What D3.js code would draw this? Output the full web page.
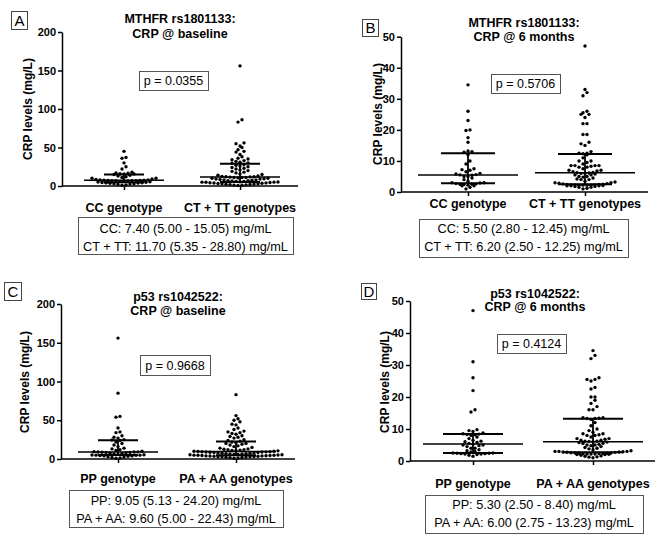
<!DOCTYPE html>
<html>
<head>
<meta charset="utf-8">
<script src="https://cdn.jsdelivr.net/npm/d3@7"></script>
<style>
  body { margin: 0; background: #fff; }
  svg { display: block; }
  text { font-family: "Liberation Sans", Arial, sans-serif; fill: #000; }
</style>
</head>
<body>
<svg width="666" height="544"></svg>
<script>
let letras = ["A", "B", "C", "D"];
let titulos = [
    ["MTHFR rs1801133:", "CRP @ baseline"],
    ["MTHFR rs1801133:", "CRP @ 6 months"],
    ["p53 rs1042522:", "CRP @ baseline"],
    ["p53 rs1042522:", "CRP @ 6 months"]
];
let categorias = [
    ["CC genotype", "CT + TT genotypes"],
    ["CC genotype", "CT + TT genotypes"],
    ["PP genotype", "PA + AA genotypes"],
    ["PP genotype", "PA + AA genotypes"]
];
let pvalores = ["p = 0.0355", "p = 0.5706", "p = 0.9668", "p = 0.4124"];
let resumos = [
    ["CC: 7.40 (5.00 - 15.05) mg/mL", "CT + TT: 11.70 (5.35 - 28.80) mg/mL"],
    ["CC: 5.50 (2.80 - 12.45) mg/mL", "CT + TT: 6.20 (2.50 - 12.25) mg/mL"],
    ["PP: 9.05 (5.13 - 24.20) mg/mL", "PA + AA: 9.60 (5.00 - 22.43) mg/mL"],
    ["PP: 5.30 (2.50 - 8.40) mg/mL", "PA + AA: 6.00 (2.75 - 13.23) mg/mL"]
];
let medianas = [[7.40, 11.70], [5.50, 6.20], [9.05, 9.60], [5.30, 6.00]];
let quartil1 = [[5.00, 5.35], [2.80, 2.50], [5.13, 5.00], [2.50, 2.75]];
let quartil3 = [[15.05, 28.80], [12.45, 12.25], [24.20, 22.43], [8.40, 13.23]];
let y_max = [200, 50, 200, 50];
let ticks_y = [
    [0, 50, 100, 150, 200],
    [0, 10, 20, 30, 40, 50],
    [0, 50, 100, 150, 200],
    [0, 10, 20, 30, 40, 50]
];

// valores de CRP (mg/L)
let a_cc = [45, 37, 36, 30, 25, 22, 18, 17, 16.5, 16, 15.8, 15.5,
    15, 14, 13, 12, 11, 10, 10, 9, 8.5, 8, 7.8, 7.5,
    7.4, 7.3, 7.2, 7, 7, 7, 6.8, 6.5, 6, 6, 5.5, 5.2,
    4.8, 4.5, 4.2, 4, 3.8, 3.5, 3, 3, 2.5, 2, 1.5, 1];
let a_ct = [156, 86, 83, 56, 55, 52, 50, 47, 45, 44, 41, 38, 36, 35, 34, 33, 32, 31, 30, 29.5,
    28, 27, 26, 25, 24, 23, 22, 21, 20, 19, 18, 17, 16, 15, 14, 13, 12.5, 12, 12, 11.8,
    11.5, 11.2, 11, 11, 10.5, 10, 10, 9.5, 9, 9, 8.5, 8, 8, 7.5, 7, 7, 6.5, 6, 6, 5.5,
    5.2, 5, 5, 4.8, 4.5, 4.2, 4, 3.8, 3.5, 3.2, 3, 2.8, 2.5, 2.2, 2, 1.8, 1.5, 1.2, 1, 0.8];
let b_cc = [34.5, 26, 23, 20, 19.8, 17.5, 16, 13.2, 13, 12.8,
    12, 10, 9, 7.5, 7.2, 7, 6.5, 6, 5.8, 5.6,
    5.5, 5.4, 5, 5, 4.5, 4, 3.5, 3, 3, 2.9,
    2.7, 2.6, 2.5, 2.5, 2.4, 2.2, 2, 2, 1.5, 1];
let b_ct = [47, 33, 32, 31, 26, 25.5, 25, 25, 24, 22, 22, 18.5, 18.5, 16, 15.5, 15, 13, 12.5, 12.5, 12.3,
    12, 11, 10, 10, 9.5, 9, 8.5, 8.5, 8.5, 8.5, 8.3, 8, 8, 7.5, 7, 7, 6.8, 6.5, 6.3, 6.2,
    6.1, 6, 6, 5.8, 5.5, 5.5, 5, 5, 4.8, 4.5, 4.2, 4, 4, 3.5, 3.2, 3, 3, 2.8, 2.7, 2.6,
    2.5, 2.4, 2.4, 2.3, 2.3, 2.3, 2.2, 2.2, 2.2, 2.2, 2.1, 2, 2, 2, 1.8, 1.8, 1.5, 1.5, 1.2, 1];
let c_pp = [156, 85, 55, 54, 40, 35, 34, 30, 28, 27, 25, 24.5,
    24, 22, 20, 18, 16, 14, 13, 12, 11, 10, 9.5, 9.2,
    9, 9, 8.8, 8.5, 8.5, 8, 7.5, 7, 6.5, 6, 5.5, 5.2,
    5, 5, 4.8, 4.5, 4, 4, 3.5, 3, 2.5, 2, 1.5, 1];
let c_pa = [83, 56, 52, 50, 48, 45, 44, 40, 38, 36, 35, 34, 33, 32, 30, 29, 28, 27, 25, 24, 23,
    22, 21, 20, 20, 19, 18, 17, 16, 15, 14, 13, 12.5, 12, 12, 11.5, 11, 11, 10.5, 10, 10, 9.8,
    9.5, 9.4, 9.2, 9, 9, 8.8, 8.5, 8.5, 8, 8, 7.5, 7.5, 7, 7, 6.5, 6.5, 6, 6, 5.5, 5.5, 5.2,
    5, 4.8, 4.8, 4.5, 4.5, 4.2, 4, 4, 3.8, 3.5, 3.5, 3.2, 3, 3, 2.8, 2.5, 2.2, 2, 1.8, 1.5, 1];
let d_pp = [47, 31, 26, 22, 16, 15.3, 9.8, 9.5, 9.2, 8.8, 8.5,
    8.4, 8.3, 8.2, 8, 7.5, 7, 6.5, 6.2, 6, 5.8, 5.5,
    5.3, 5, 5, 4.8, 4.5, 4, 4, 3.5, 3.2, 3, 2.8,
    2.5, 2.5, 2.4, 2.4, 2.3, 2.3, 2.2, 2.2, 2, 1.8, 1.5];
let d_pa = [34.5, 33, 32, 26, 25.5, 25.5, 25, 23, 22.5, 20, 20, 19, 18, 17, 16, 16, 13.5, 13.5, 13.4, 13.3, 13.3,
    13, 12, 11, 10, 9.5, 9, 8.5, 8.5, 8.2, 8, 8, 7.5, 7, 7, 6.8, 6.5, 6.5, 6.2, 6.2, 6.1, 6,
    5.9, 5.8, 5.5, 5.5, 5.2, 5, 5, 4.8, 4.5, 4.2, 4, 3.8, 3.5, 3.2, 3, 3, 3, 2.9, 2.8, 2.8, 2.75,
    2.7, 2.6, 2.5, 2.5, 2.4, 2.4, 2.3, 2.3, 2.3, 2.2, 2.2, 2.2, 2.1, 2, 2, 1.8, 1.6, 1.5, 1.3, 1.2, 1];
let grupos = [[a_cc, a_ct], [b_cc, b_ct], [c_pp, c_pa], [d_pp, d_pa]];

// posicoes de cada painel
let paineis = [
    {ax: 62, xe: 298, y0: 186, yt: 32, c: [124, 240], tx: 180, ty: [23, 38], lb: [11, 11, 16, 18],
     pb: [139, 71, 69, 19], cy: 212, sb: [78, 217, 215, 37], sy: [233, 251], ylx: 28, yly: 109, mw: 40, cw: 20},
    {ax: 401, xe: 648, y0: 192, yt: 36.7, c: [468, 585], tx: 524, ty: [27, 41], lb: [362, 19, 16, 17],
     pb: [491, 74, 69, 19], cy: 208, sb: [419, 219, 209, 38], sy: [233, 251], ylx: 378, yly: 114, mw: 50, cw: 27},
    {ax: 61, xe: 295, y0: 459, yt: 304, c: [118, 236], tx: 178, ty: [301, 315], lb: [4, 282, 17, 18],
     pb: [140, 355, 70, 20], cy: 483, sb: [69, 490, 214, 37], sy: [505, 523], ylx: 25, yly: 382, mw: 40, cw: 20},
    {ax: 410, xe: 655, y0: 461, yt: 301, c: [473, 593], tx: 535, ty: [298, 311], lb: [361, 283, 15, 16],
     pb: [497, 334, 69, 19], cy: 488, sb: [425, 495, 218, 38], sy: [509, 527], ylx: 385, yly: 382, mw: 50, cw: 30}
];

let $svg = d3.select("svg");
let raio = 1.7;
let passo = 4;
let alt_linha = 3.6;

// distribui os pontos em linhas horizontais (tipo Prism)
function enxame(vals, y, cx) {
    let ord = vals.slice().sort((a, b) => a - b);
    let pts = [];
    let linha = [];
    let y_ini = null;

    function fecha() {
        let n = linha.length;
        let offs = d3.range(n).map(i => (i - (n - 1) / 2) * passo);
        offs.sort((a, b) => Math.abs(a) - Math.abs(b) || a - b);
        linha.forEach((v, i) => pts.push({x: cx + offs[i], y: y(v)}));
        linha = [];
    }

    ord.forEach(v => {
        if (y_ini === null || Math.abs(y_ini - y(v)) > alt_linha) {
            if (linha.length) fecha();
            y_ini = y(v);
        }
        linha.push(v);
    });
    if (linha.length) fecha();
    return pts;
}

paineis.forEach((p, k) => {
    let g = $svg.append("g");

    let y = d3.scaleLinear()
        .domain([0, y_max[k]])
        .range([p.y0, p.yt]);

    let x = d3.scalePoint()
        .domain(categorias[k])
        .range(p.c);

    // eixo y
    let eixo_y = g.append("g")
        .attr("transform", `translate(${p.ax},0)`)
        .call(d3.axisLeft(y).tickValues(ticks_y[k]).tickSize(4).tickSizeOuter(0).tickPadding(2));
    eixo_y.select(".domain").attr("stroke-width", 1.5);
    eixo_y.selectAll(".tick line").attr("stroke-width", 1.5);
    eixo_y.selectAll(".tick text")
        .style("font-size", "11px")
        .style("font-weight", "bold")
        .style("font-family", "'Liberation Sans', Arial, sans-serif");

    // eixo x
    g.append("line")
        .attr("x1", p.ax).attr("x2", p.xe)
        .attr("y1", p.y0).attr("y2", p.y0)
        .attr("stroke", "#000").attr("stroke-width", 1.5);

    let eixo_x = g.append("g")
        .attr("transform", `translate(0,${p.y0})`)
        .call(d3.axisBottom(x).tickSize(4).tickFormat(""));
    eixo_x.select(".domain").remove();
    eixo_x.selectAll(".tick line").attr("stroke-width", 1.5);

    g.selectAll("text.cat")
        .data(categorias[k])
        .enter()
        .append("text")
        .classed("cat", true)
        .attr("x", d => x(d))
        .attr("y", p.cy)
        .attr("text-anchor", "middle")
        .style("font-size", "12.5px")
        .style("font-weight", "bold")
        .text(d => d);

    // rotulo do eixo y
    g.append("text")
        .attr("transform", `translate(${p.ylx + 4},${p.yly}) rotate(-90)`)
        .attr("text-anchor", "middle")
        .style("font-size", "12px")
        .style("font-weight", "bold")
        .text("CRP levels (mg/L)");

    // titulo
    g.selectAll("text.titulo")
        .data(titulos[k])
        .enter()
        .append("text")
        .classed("titulo", true)
        .attr("x", p.tx)
        .attr("y", (d, i) => p.ty[i])
        .attr("text-anchor", "middle")
        .style("font-size", "12.5px")
        .style("font-weight", "bold")
        .text(d => d);

    // letra do painel
    g.append("rect")
        .attr("x", p.lb[0] + 0.5).attr("y", p.lb[1] + 0.5)
        .attr("width", p.lb[2]).attr("height", p.lb[3])
        .attr("fill", "none").attr("stroke", "#444");
    g.append("text")
        .attr("x", p.lb[0] + p.lb[2] / 2 + 0.5)
        .attr("y", p.lb[1] + p.lb[3] / 2 + 5.5)
        .attr("text-anchor", "middle")
        .style("font-size", "15px")
        .text(letras[k]);

    // caixa do p
    g.append("rect")
        .attr("x", p.pb[0] + 0.5).attr("y", p.pb[1] + 0.5)
        .attr("width", p.pb[2]).attr("height", p.pb[3])
        .attr("fill", "#fff").attr("stroke", "#555");
    g.append("text")
        .attr("x", p.pb[0] + p.pb[2] / 2)
        .attr("y", p.pb[1] + p.pb[3] / 2 + 4.5)
        .attr("text-anchor", "middle")
        .style("font-size", "12.5px")
        .text(pvalores[k]);

    // caixa de resumo
    g.append("rect")
        .attr("x", p.sb[0] + 0.5).attr("y", p.sb[1] + 0.5)
        .attr("width", p.sb[2]).attr("height", p.sb[3])
        .attr("fill", "none").attr("stroke", "#555");
    g.selectAll("text.resumo")
        .data(resumos[k])
        .enter()
        .append("text")
        .classed("resumo", true)
        .attr("x", p.sb[0] + p.sb[2] / 2)
        .attr("y", (d, i) => p.sy[i])
        .attr("text-anchor", "middle")
        .style("font-size", "12.7px")
        .text(d => d);

    // pontos
    categorias[k].forEach((cat, j) => {
        let pts = enxame(grupos[k][j], y, x(cat));
        g.selectAll(null)
            .data(pts)
            .enter()
            .append("circle")
            .attr("cx", d => d.x)
            .attr("cy", d => d.y)
            .attr("r", raio)
            .attr("fill", "#000");

        let cx = x(cat);
        // mediana e intervalo interquartil
        g.append("line")
            .attr("x1", cx - p.mw).attr("x2", cx + p.mw)
            .attr("y1", y(medianas[k][j])).attr("y2", y(medianas[k][j]))
            .attr("stroke", "#000").attr("stroke-width", 1.5);
        g.append("line")
            .attr("x1", cx).attr("x2", cx)
            .attr("y1", y(quartil1[k][j])).attr("y2", y(quartil3[k][j]))
            .attr("stroke", "#000").attr("stroke-width", 1.8);
        [quartil1[k][j], quartil3[k][j]].forEach(q => {
            g.append("line")
                .attr("x1", cx - p.cw).attr("x2", cx + p.cw)
                .attr("y1", y(q)).attr("y2", y(q))
                .attr("stroke", "#000").attr("stroke-width", 2);
        });
    });
});
</script>
</body>
</html>
